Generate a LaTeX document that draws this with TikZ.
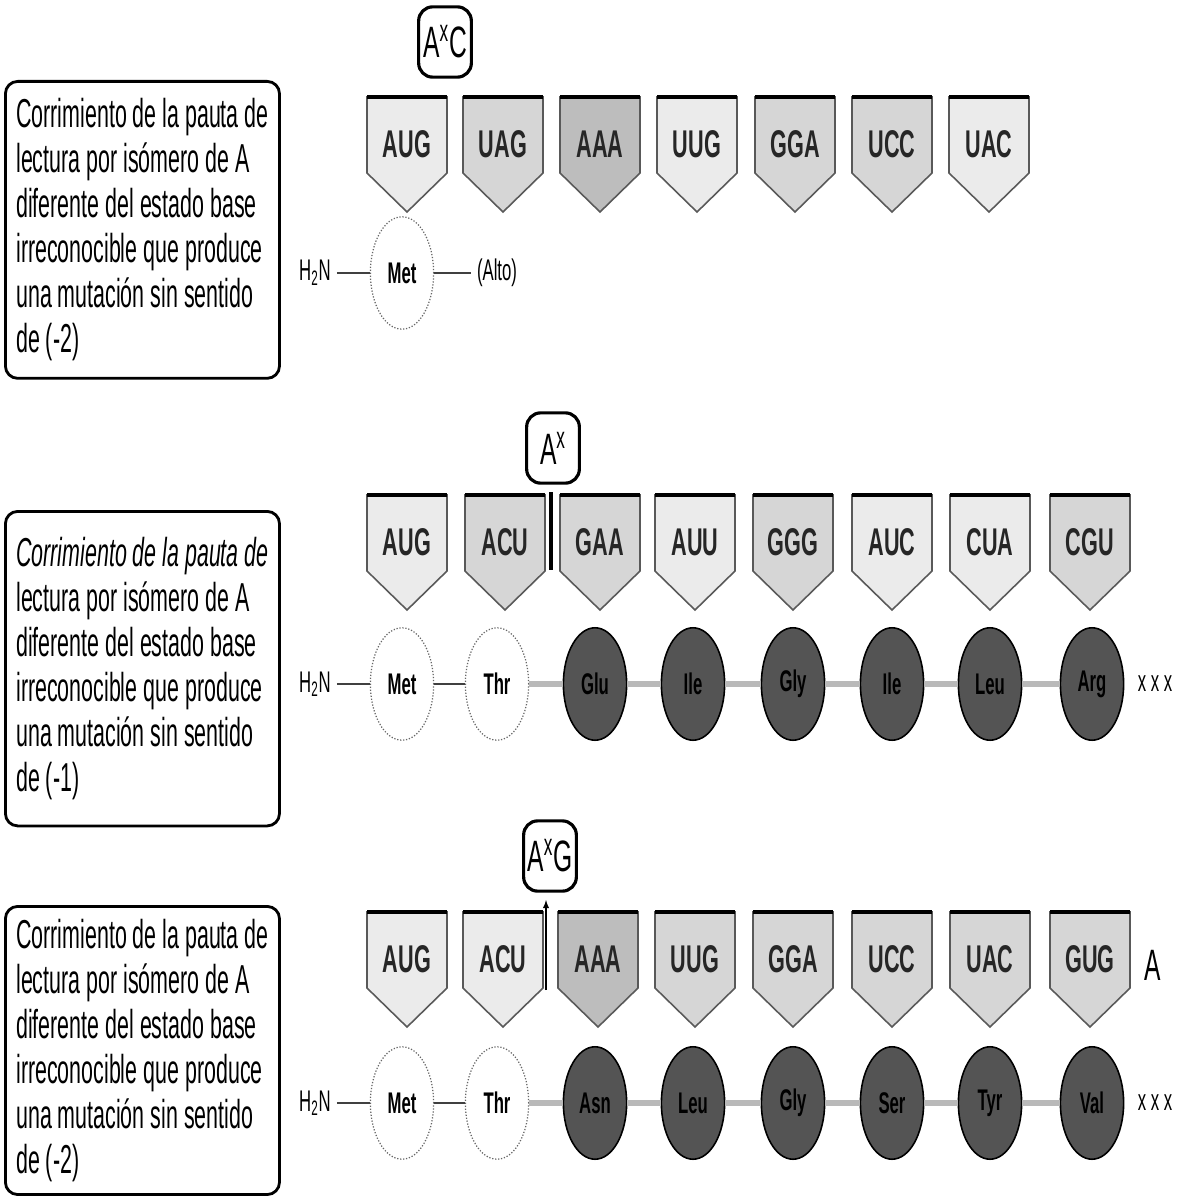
\documentclass[tikz,border=0pt]{standalone}
\usepackage{fontspec}
\setmainfont{Liberation Sans}[FakeStretch=0.53]
\newfontfamily\codfont{Liberation Sans}[FakeStretch=0.56]
\usetikzlibrary{arrows, shapes.geometric, positioning}
\definecolor{codlight}{gray}{0.92}
\definecolor{codmid}{gray}{0.84}
\definecolor{coddark}{gray}{0.74}
\definecolor{aafill}{gray}{0.33}

\tikzset{
  descbox/.style={draw, line width=1.6pt, rounded corners=7pt, anchor=north west,
    align=left, minimum width=156pt, inner xsep=4pt,
    font=\fontsize{23}{25.6}\selectfont},
  codtxt/.style={font=\codfont\fontsize{22}{22}\selectfont\bfseries, text=black!85},
  aawhite/.style={ellipse, draw=black!60, densely dotted, line width=0.7pt, fill=white,
    minimum width=36pt, minimum height=64pt, inner sep=0pt, font=\codfont\fontsize{17}{17}\selectfont\bfseries},
  aadark/.style={ellipse, draw=black, fill=aafill, line width=0.9pt,
    minimum width=36pt, minimum height=64pt, inner sep=0pt, font=\codfont\fontsize{17}{17}\selectfont\bfseries},
  isomark/.style={draw, line width=1.8pt, rounded corners=8pt, minimum width=30pt,
    minimum height=40pt, inner sep=1pt, font=\codfont\fontsize{25}{25}\selectfont},
  chainthin/.style={black!75, line width=0.7pt},
  chainthick/.style={gray!55, line width=3pt},
  endlbl/.style={font=\codfont\fontsize{17}{17}\selectfont},
}

% codon tag: name, x, top, label, fill
\newcommand{\codtag}[5]{%
  \filldraw[fill=#5, draw=black!65, line width=0.9pt] (#2-40,#3) -- (#2+40,#3) -- (#2+40,#3+76) -- (#2,#3+115) -- (#2-40,#3+76) -- cycle;
  \draw[line width=2.2pt] (#2-40,#3) -- (#2+40,#3);
  \node[codtxt] (#1) at (#2,#3+47) {#4};
}

\begin{document}
\setlength{\spaceskip}{4pt plus 1pt minus 1pt}
\begin{tikzpicture}[x=0.02cm,y=-0.02cm]
  \useasboundingbox (0,0) rectangle (1179,1199);

  %%%%%%%%%%% first row: (-2), stop
  \node[descbox, minimum height=169pt] (descA) at (4,80) {Corrimiento de la pauta de\\
    lectura por isómero de A\\ diferente del estado base\\ irreconocible que produce\\
    una mutación sin sentido\\ de (-2)};
  \node[isomark] (markA) at (445,42) {A\textsuperscript{x}C};

  \foreach \x/\c/\s [count=\i] in {407/AUG/codlight, 503/UAG/codmid, 600/AAA/coddark,
    697/UUG/codlight, 795/GGA/codmid, 892/UCC/codmid, 989/UAC/codlight}
  {
    \codtag{cA\i}{\x}{97}{\c}{\s}
  }

  \node[endlbl] (h2nA) at (315,273) {H\textsubscript{2}N};
  \node[aawhite] (aaA1) at (402,273) {Met};
  \node[endlbl] (stopA) at (497,273) {(Alto)};
  \draw[chainthin] (h2nA) -- (aaA1);
  \draw[chainthin] (aaA1) -- (stopA);

  %%%%%%%%%%% second row: (-1)
  \node[descbox, minimum height=179pt] (descB) at (4,510) {\textit{Corrimiento de la pauta de}\\
    lectura por isómero de A\\ diferente del estado base\\ irreconocible que produce\\
    una mutación sin sentido\\ de (-1)};
  \node[isomark] (markB) at (553,448) {A\textsuperscript{x}};

  \foreach \x/\c/\s [count=\i] in {407/AUG/codlight, 505/ACU/codmid, 600/GAA/codmid,
    695/AUU/codlight, 793/GGG/codmid, 892/AUC/codlight, 990/CUA/codlight, 1090/CGU/codmid}
  {
    \codtag{cB\i}{\x}{495}{\c}{\s}
  }
  \draw[line width=2.4pt] (551,492) -- (551,570);

  \node[endlbl] (h2nB) at (315,684) {H\textsubscript{2}N};
  \node[aawhite] (aaB1) at (402,684) {Met};
  \node[aawhite] (aaB2) at (497,684) {Thr};
  \foreach \x/\a [count=\i from 3] in {595/Glu, 693/Ile, 793/Gly, 892/Ile, 990/Leu, 1092/Arg}
  {
    \node[aadark] (aaB\i) at (\x,684) {\a};
  }
  \node[endlbl] (endB) at (1155,684) {x x x};
  \draw[chainthin] (h2nB) -- (aaB1);
  \draw[chainthin] (aaB1) -- (aaB2);
  \foreach \i [evaluate=\i as \j using int(\i+1)] in {2,...,7}
    \draw[chainthick] (aaB\i) -- (aaB\j);

  %%%%%%%%%%% third row: (-2) with G
  \node[descbox, minimum height=164pt] (descC) at (4,905) {Corrimiento de la pauta de\\
    lectura por isómero de A\\ diferente del estado base\\ irreconocible que produce\\
    una mutación sin sentido\\ de (-2)};
  \node[isomark] (markC) at (550,856) {A\textsuperscript{x}G};

  \foreach \x/\c/\s [count=\i] in {407/AUG/codlight, 503/ACU/codlight, 598/AAA/coddark,
    695/UUG/codmid, 793/GGA/codmid, 892/UCC/codmid, 990/UAC/codmid, 1090/GUG/codmid}
  {
    \codtag{cC\i}{\x}{912}{\c}{\s}
  }
  \coordinate (shiftC) at (546,990);
  \draw[-latex, line width=0.6pt] (shiftC) -- (546,900);
  \node[font=\codfont\fontsize{25}{25}\selectfont] (extraC) at (1153,965) {A};

  \node[endlbl] (h2nC) at (315,1103) {H\textsubscript{2}N};
  \node[aawhite] (aaC1) at (402,1103) {Met};
  \node[aawhite] (aaC2) at (497,1103) {Thr};
  \foreach \x/\a [count=\i from 3] in {595/Asn, 693/Leu, 793/Gly, 892/Ser, 990/Tyr, 1092/Val}
  {
    \node[aadark] (aaC\i) at (\x,1103) {\a};
  }
  \node[endlbl] (endC) at (1155,1103) {x x x};
  \draw[chainthin] (h2nC) -- (aaC1);
  \draw[chainthin] (aaC1) -- (aaC2);
  \foreach \i [evaluate=\i as \j using int(\i+1)] in {2,...,7}
    \draw[chainthick] (aaC\i) -- (aaC\j);

\end{tikzpicture}
\end{document}
